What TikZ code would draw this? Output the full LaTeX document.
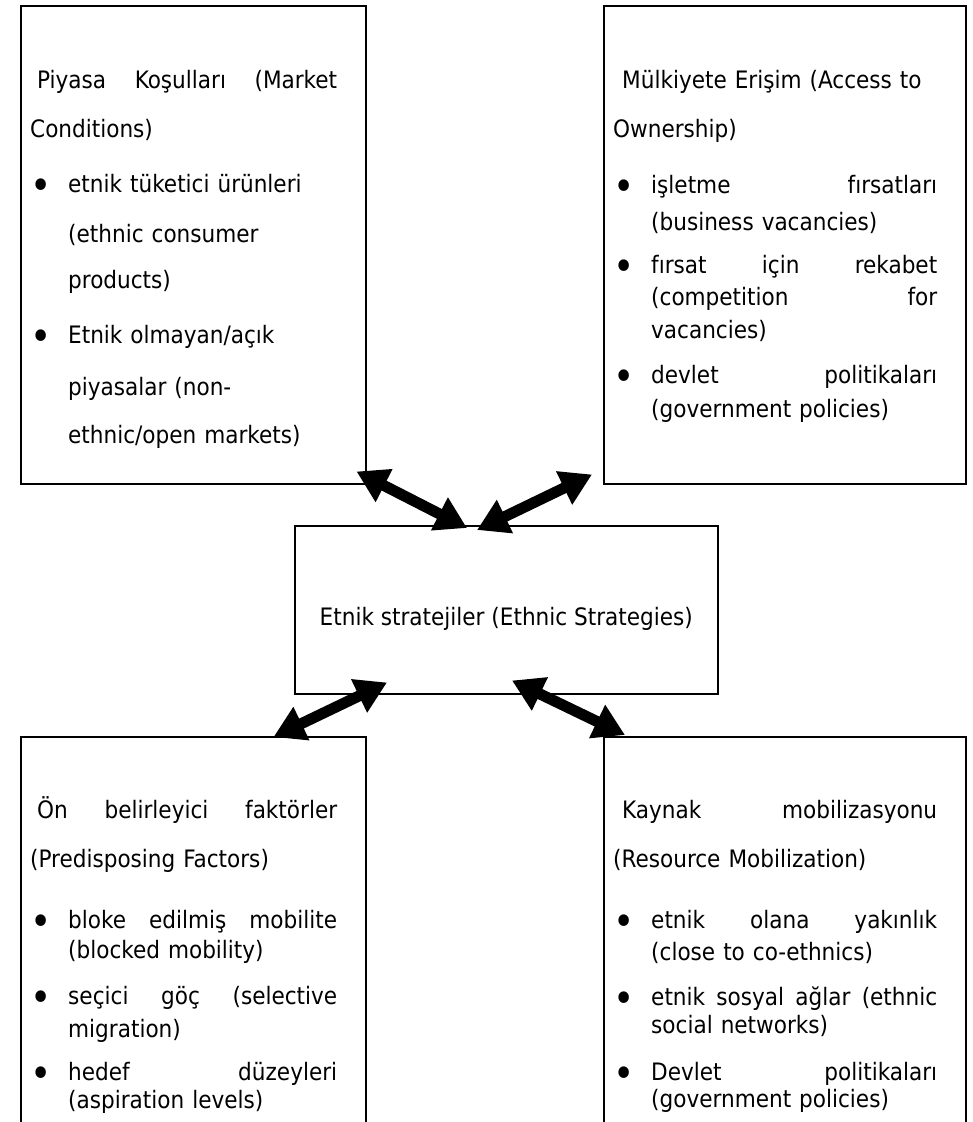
\documentclass[tikz,border=0pt]{standalone}
\usepackage{fontspec}
\setmainfont{DejaVu Sans Condensed}
\usetikzlibrary{arrows.meta}
\newcommand\bul{\makebox[38pt][l]{\fontsize{40}{40}\selectfont\raisebox{-7pt}{•}}}
\newcommand\ind{\hspace*{38pt}}
\begin{document}
\begin{tikzpicture}[x=1pt,y=-1pt,
  box/.style={draw,line width=1.5pt,inner sep=0pt,anchor=north west},
  txt/.style={inner sep=0pt,anchor=north west,align=left,font=\fontsize{24}{31}\selectfont},
  duo/.style={line width=11pt,{Triangle[length=31pt,width=35pt]}-{Triangle[length=31pt,width=35pt]}}]
\useasboundingbox (0,0) rectangle (973,1122);
\node[box,minimum width=345pt,minimum height=478pt] (pk) at (20,5) {};
\node[box,minimum width=362pt,minimum height=478pt] (me) at (603,5) {};
\node[box,minimum width=423pt,minimum height=168pt] (es) at (294,525) {};
\node[box,minimum width=345pt,minimum height=420pt] (ob) at (20,736) {};
\node[box,minimum width=362pt,minimum height=420pt] (km) at (603,736) {};
\node[txt,anchor=base,align=center] (estxt) at ([yshift=-16pt]es.center) {Etnik stratejiler (Ethnic Strategies)};
\node[txt,text width=307pt] (pktxt) at (30,66.3) {\strut\hspace*{7pt}Piyasa\hfill Koşulları\hfill (Market\\[18pt]
Conditions)\\[24pt]
\bul etnik tüketici ürünleri\\[19pt]
\ind(ethnic consumer\\[15pt]
\ind products)\\[24pt]
\bul Etnik olmayan/açık\\[21pt]
\ind piyasalar (non-\\[17pt]
\ind ethnic/open markets)};
\node[txt,text width=324pt] (metxt) at (613,66.3) {\strut\hspace*{9pt}Mülkiyete Erişim (Access to\\[18pt]
Ownership)\\[25pt]
\bul işletme\hfill fırsatları\\[6pt]
\ind(business vacancies)\\[12pt]
\bul fırsat\hfill için\hfill rekabet\\[1pt]
\ind(competition\hfill for\\[2pt]
\ind vacancies)\\[14pt]
\bul devlet\hfill politikaları\\[3pt]
\ind(government policies)};
\node[txt,text width=307pt] (obtxt) at (30,796.3) {\strut\hspace*{7pt}Ön\hfill belirleyici\hfill faktörler\\[18pt]
(Predisposing Factors)\\[30pt]
\bul bloke\hfill edilmiş\hfill mobilite\\[-1pt]
\ind(blocked mobility)\\[15pt]
\bul seçici\hfill göç\hfill (selective\\[2pt]
\ind migration)\\[12pt]
\bul hedef\hfill düzeyleri\\[-3pt]
\ind(aspiration levels)};
\node[txt,text width=324pt] (kmtxt) at (613,796.3) {\strut\hspace*{9pt}Kaynak\hfill mobilizasyonu\\[18pt]
(Resource Mobilization)\\[30pt]
\bul etnik\hfill olana\hfill yakınlık\\[1pt]
\ind(close to co-ethnics)\\[14pt]
\bul etnik\hfill sosyal\hfill ağlar\hfill (ethnic\\[-3pt]
\ind social networks)\\[16pt]
\bul Devlet\hfill politikaları\\[-4pt]
\ind(government policies)};
\draw[duo] ([shift={(-10,-13)}]pk.south east) -- ([shift={(173,3)}]es.north west);
\draw[duo] ([shift={(-11,-10)}]me.south west) -- ([shift={(183,5)}]es.north west);
\draw[duo] ([shift={(93,-12)}]es.south west) -- ([shift={(-93,1)}]ob.north east);
\draw[duo] ([shift={(218,-14)}]es.south west) -- ([shift={(22,-1)}]km.north west);
\end{tikzpicture}
\end{document}
